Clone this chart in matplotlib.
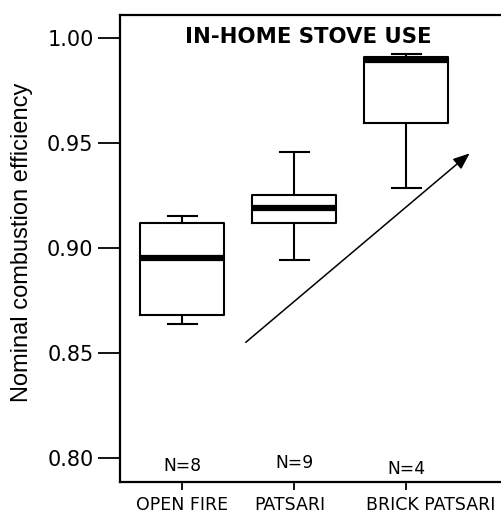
import matplotlib
matplotlib.use("Agg")
import matplotlib.pyplot as plt
import matplotlib.transforms as mtransforms

# === Data ===
stoves = ["OPEN FIRE", "PATSARI", "BRICK PATSARI"]
n_obs = [8, 9, 4]
whis_lo = [0.864, 0.8944, 0.9285]
q1 = [0.8683, 0.9122, 0.9595]
median = [0.8956, 0.9193, 0.9899]
q3 = [0.9120, 0.9254, 0.9911]
whis_hi = [0.9155, 0.9457, 0.9924]

# trend arrow (start -> end, data coords)
arrow_start = (1.566, 0.8552)
arrow_end = (3.566, 0.9452)

stats = []
for i, name in enumerate(stoves):
    stats.append(dict(label=name, whislo=whis_lo[i], q1=q1[i], med=median[i],
                      q3=q3[i], whishi=whis_hi[i], fliers=[]))

fig = plt.figure(figsize=(5.02, 5.14), dpi=100)
ax = fig.add_axes([0.239, 0.0623, 0.771, 0.9085])

ax.bxp(stats, positions=[1, 2, 3], widths=0.75, capwidths=0.26,
       showfliers=False, patch_artist=False,
       boxprops=dict(color="black", linewidth=1.5),
       whiskerprops=dict(color="black", linewidth=1.5),
       capprops=dict(color="black", linewidth=1.5),
       medianprops=dict(color="black", linewidth=4.5, solid_capstyle="butt"))

ax.annotate("", xy=arrow_end, xytext=arrow_start,
            arrowprops=dict(arrowstyle="-|>,head_length=1.0,head_width=0.4",
                            color="black", lw=1.1, shrinkA=0, shrinkB=0))

ax.text(2.12, 1.0006, "IN-HOME STOVE USE", ha="center", va="center",
        fontsize=15.3, fontweight="bold", family="DejaVu Sans")

n_y = [0.7961, 0.7976, 0.7951]
for i, n in enumerate(n_obs):
    ax.text(i + 1, n_y[i], f"N={n}", ha="center", va="center",
            fontsize=12.3, family="DejaVu Sans")

ax.set_xlim(0.4425, 3.90)
ax.set_ylim(0.7887, 1.0111)
ax.set_yticks([0.80, 0.85, 0.90, 0.95, 1.00])
ax.set_yticklabels(["0.80", "0.85", "0.90", "0.95", "1.00"],
                   family="DejaVu Sans", fontsize=15)
ax.set_xticks([1, 2, 3])
ax.set_xticklabels(stoves, family="DejaVu Sans", fontsize=12.5)

ax.tick_params(axis="y", length=16, width=1.3, pad=3)
ax.tick_params(axis="x", length=6, width=1.3, pad=4)

# shift the category labels a little like in the original
label_shift = [0, -5, 24]
for lab, dx in zip(ax.get_xticklabels(), label_shift):
    off = mtransforms.ScaledTranslation(dx / 100, 0, fig.dpi_scale_trans)
    lab.set_transform(lab.get_transform() + off)

ax.set_ylabel("Nominal combustion efficiency", fontsize=17,
              family="Liberation Sans")
ax.yaxis.set_label_coords(-0.225, 0.513)

for side in ["left", "top", "bottom"]:
    ax.spines[side].set_linewidth(1.6)
ax.spines["right"].set_visible(False)

fig.savefig("out.png", dpi=100)
